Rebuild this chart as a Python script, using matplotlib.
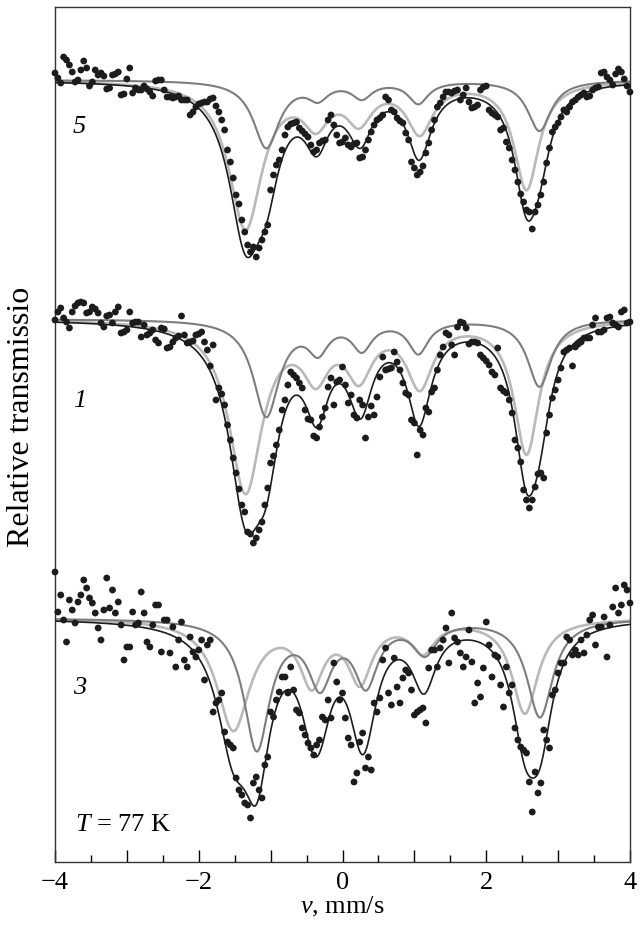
import numpy as np
import matplotlib
matplotlib.use("Agg")
import matplotlib.pyplot as plt
from matplotlib.ticker import MultipleLocator, FuncFormatter

plt.rcParams['font.family'] = ['Liberation Serif', 'DejaVu Serif']
plt.rcParams['mathtext.fontset'] = 'custom'
plt.rcParams['mathtext.rm'] = 'Liberation Serif'
plt.rcParams['mathtext.it'] = 'Liberation Serif:italic'

# velocity channels, mm/s
velocity = np.linspace(-4.0, 4.0, 201)

# measured transmission, % of off-resonance level
trans_5 = [100.7, 100.2, 99.7, 102.3, 102.0, 101.5, 100.8, 99.8, 100.0, 101.0,
           101.9, 101.2, 99.4, 99.8, 101.0, 100.5, 100.7, 100.4, 99.1, 99.2,
           100.5, 100.6, 100.8, 98.5, 98.6, 100.1, 101.2, 98.7, 99.2, 99.0,
           99.0, 99.4, 99.1, 98.8, 98.4, 99.9, 100.0, 100.0, 99.0, 98.3,
           98.3, 98.2, 98.3, 98.4, 98.0, 98.0, 98.0, 96.5, 96.8, 97.3,
           97.6, 97.7, 97.8, 97.8, 98.1, 98.2, 97.4, 96.8, 96.0, 95.0,
           93.0, 91.8, 90.2, 88.5, 87.6, 86.0, 84.8, 83.5, 82.8, 83.3,
           82.3, 83.2, 84.0, 84.8, 85.5, 89.0, 90.5, 91.5, 92.0, 93.0,
           94.5, 95.3, 95.6, 95.7, 95.8, 95.2, 94.9, 94.6, 94.3, 93.5,
           92.8, 93.0, 93.7, 93.9, 94.0, 96.0, 96.5, 95.5, 94.5, 93.7,
           93.8, 94.2, 93.5, 93.3, 93.6, 93.7, 92.2, 92.3, 93.0, 94.0,
           94.8, 95.5, 96.0, 96.2, 96.5, 98.3, 98.0, 97.0, 96.8, 96.2,
           95.9, 95.7, 94.7, 94.0, 91.8, 91.2, 90.5, 90.8, 91.4, 92.7,
           93.7, 95.0, 96.0, 97.3, 97.7, 98.3, 98.8, 98.8, 98.7, 98.9,
           99.0, 98.0, 98.5, 99.2, 97.8, 97.2, 97.3, 97.5, 99.0, 99.3,
           99.4, 97.0, 96.7, 96.5, 96.3, 95.0, 95.2, 93.8, 93.2, 92.0,
           91.0, 89.8, 88.6, 87.8, 87.0, 86.8, 85.1, 86.8, 87.5, 88.5,
           89.8, 91.7, 93.2, 94.8, 95.3, 95.7, 96.3, 97.0, 96.8, 97.3,
           97.8, 98.0, 98.3, 98.5, 98.7, 98.3, 98.4, 99.0, 99.2, 99.3,
           100.7, 100.8, 100.3, 100.0, 99.5, 100.6, 101.1, 100.8, 100.1, 99.4,
           98.8]
trans_1 = [99.9, 100.7, 101.1, 100.1, 99.7, 99.1, 100.7, 101.3, 101.6, 101.7,
           101.6, 100.6, 100.7, 101.2, 101.0, 100.6, 99.6, 99.2, 100.3, 100.4,
           99.6, 100.7, 101.2, 98.6, 98.7, 98.9, 100.7, 99.6, 99.7, 99.7,
           98.2, 99.4, 98.4, 98.6, 98.9, 97.9, 97.6, 99.1, 99.0, 97.1,
           97.2, 97.7, 98.1, 98.3, 100.3, 98.4, 97.6, 97.7, 97.8, 98.4,
           98.5, 98.7, 97.7, 96.9, 95.3, 97.4, 91.9, 93.1, 92.5, 91.4,
           89.4, 87.9, 86.1, 84.6, 83.0, 81.4, 80.7, 78.7, 78.5, 77.6,
           78.1, 78.9, 79.7, 81.4, 83.1, 85.6, 86.3, 87.4, 88.9, 90.9,
           91.9, 93.4, 94.7, 94.4, 94.1, 93.6, 93.1, 90.9, 90.0, 89.9,
           88.3, 88.1, 89.2, 90.2, 91.1, 93.2, 94.1, 91.4, 93.7, 93.9,
           95.2, 93.4, 91.6, 92.4, 90.4, 90.1, 91.9, 91.4, 88.1, 90.2,
           91.3, 90.4, 92.2, 94.2, 96.2, 94.9, 95.0, 95.1, 96.7, 95.7,
           94.9, 93.6, 92.6, 92.4, 89.9, 89.6, 86.4, 88.9, 88.4, 91.1,
           90.7, 92.7, 93.1, 94.9, 96.4, 97.2, 98.6, 98.4, 97.4, 96.4,
           99.2, 99.7, 99.6, 99.1, 97.5, 97.7, 97.7, 97.6, 96.4, 96.1,
           95.8, 95.4, 94.7, 94.4, 97.1, 93.1, 92.8, 92.6, 91.9, 90.6,
           87.9, 87.1, 85.7, 82.9, 81.9, 81.1, 81.9, 83.2, 84.5, 84.6,
           84.1, 88.6, 90.4, 92.1, 92.9, 93.9, 95.1, 96.7, 96.9, 97.1,
           95.3, 97.2, 97.5, 97.7, 98.1, 98.1, 98.1, 99.4, 100.1, 98.7,
           98.7, 98.9, 100.1, 100.2, 99.6, 99.4, 99.2, 100.7, 100.9, 99.6,
           99.7]
trans_3 = [104.6, 100.6, 102.3, 99.8, 97.6, 101.8, 100.8, 99.5, 101.6, 102.3,
           103.8, 103.0, 102.0, 101.5, 100.5, 99.0, 97.8, 100.8, 104.0, 101.0,
           102.8, 100.5, 101.6, 99.3, 95.8, 97.1, 97.1, 100.6, 99.3, 99.5,
           102.6, 100.5, 97.6, 97.1, 99.3, 101.3, 101.3, 96.6, 99.8, 99.8,
           96.5, 99.1, 95.1, 97.8, 99.6, 95.8, 95.1, 98.1, 96.6, 96.1,
           96.8, 97.8, 93.8, 97.3, 97.8, 90.6, 91.5, 91.8, 92.5, 88.6,
           87.6, 87.3, 87.0, 84.0, 82.8, 82.3, 81.5, 81.3, 80.0, 83.5,
           84.1, 82.8, 82.0, 85.3, 86.1, 90.6, 90.1, 91.8, 92.6, 94.1,
           94.1, 92.5, 95.1, 92.8, 90.8, 90.5, 89.0, 88.3, 87.5, 87.0,
           86.3, 87.3, 87.8, 90.1, 89.8, 91.8, 90.0, 95.5, 93.6, 91.8,
           92.5, 90.0, 88.0, 87.3, 83.6, 84.5, 87.6, 88.5, 85.0, 86.1,
           84.8, 91.5, 90.6, 92.0, 95.8, 97.0, 92.5, 91.3, 96.0, 93.1,
           91.5, 94.0, 94.8, 94.5, 92.8, 90.3, 90.6, 90.8, 91.0, 89.5,
           95.0, 96.8, 96.8, 95.1, 97.0, 97.8, 99.0, 95.5, 100.5, 98.0,
           97.6, 96.5, 95.1, 96.1, 98.8, 95.6, 91.5, 93.5, 92.1, 95.0,
           99.6, 97.3, 94.1, 96.3, 96.1, 93.3, 91.1, 95.1, 92.5, 93.3,
           89.0, 87.8, 87.1, 86.8, 86.5, 83.6, 80.6, 84.6, 82.5, 83.5,
           88.8, 87.8, 87.0, 92.3, 92.8, 94.5, 95.5, 95.5, 98.1, 97.8,
           96.3, 96.8, 96.3, 97.8, 96.5, 98.3, 99.8, 100.3, 97.3, 99.1,
           99.1, 100.1, 96.1, 99.3, 101.1, 103.0, 100.5, 101.3, 103.3, 102.8,
           101.5]

# fitted subspectra: line positions (mm/s), half widths (mm/s), depths (%)
pos_a = [-1.06, -0.34, 0.27, 1.055, 2.74]
hw_a = [0.22, 0.17, 0.17, 0.17, 0.20]
pos_b = [-1.35, -0.37, 0.23, 1.075, 2.56]
hw_b = [0.28, 0.22, 0.22, 0.22, 0.21]
depth_a5 = [6.7, 1.55, 1.6, 2.2, 5.05]
depth_b5 = [14.7, 3.7, 3.6, 4.9, 10.8]
depth_a1 = [9.6, 2.8, 2.75, 3.2, 6.7]
depth_b1 = [17.1, 4.9, 5.1, 6.3, 13.3]

pos_a3 = [-1.193, -0.313, 0.327, 1.147, 2.747]
hw_a3 = [0.22, 0.20, 0.20, 0.20, 0.22]
depth_a3 = [12.9, 6.1, 6.2, 3.15, 9.8]
pos_b3 = [-1.519, -0.428, 0.243, 1.12, 2.538]
hw_b3 = [0.28, 0.20, 0.20, 0.20, 0.22]
depth_b3 = [11.0, 6.0, 5.9, 3.0, 9.4]

# vertical placement of each spectrum (level of 100 %)
base_5 = 78.2
base_1 = 54.3
base_3 = 24.4

DARK = '#7d7d7d'
LIGHT = '#b9b9b9'
INK = '#1c1c1c'


def absorption(v, pos, hw, depth):
    out = np.zeros_like(v)
    for p, w, d in zip(pos, hw, depth):
        out += d / (1.0 + ((v - p) / w) ** 2)
    return out


fig = plt.figure(figsize=(6.41, 9.31), dpi=100)
ax = fig.add_axes([55 / 641, 69 / 931, 575 / 641, 855 / 931])

vfine = np.linspace(-4, 4, 1601)

spectra = [
    (trans_5, base_5, (pos_a, hw_a, depth_a5), (pos_b, hw_b, depth_b5)),
    (trans_1, base_1, (pos_a, hw_a, depth_a1), (pos_b, hw_b, depth_b1)),
    (trans_3, base_3, (pos_a3, hw_a3, depth_a3), (pos_b3, hw_b3, depth_b3)),
]

for trans, base, comp_a, comp_b in spectra:
    ya = absorption(vfine, *comp_a)
    yb = absorption(vfine, *comp_b)
    ax.plot(vfine, base - yb, color=LIGHT, lw=1.9, zorder=2)
    ax.plot(vfine, base - ya, color=DARK, lw=1.5, zorder=2)
    ax.plot(vfine, base - ya - yb, color=INK, lw=1.2, zorder=3)
    ax.scatter(velocity, np.array(trans) - 100 + base, s=24, color=INK,
               edgecolors='none', zorder=4, clip_on=False)

ax.text(-3.66, 73.5, '5', fontsize=19, style='italic', ha='center', va='center')
ax.text(-3.65, 46.1, '1', fontsize=19, style='italic', ha='center', va='center')
ax.text(-3.66, 17.4, '3', fontsize=19, style='italic', ha='center', va='center')
ax.text(-3.72, 3.7, '$T$ = 77 K', fontsize=19, ha='left', va='center')

ax.set_xlim(-4, 4)
ax.set_ylim(0, 85.5)
ax.set_yticks([])
ax.xaxis.set_major_locator(MultipleLocator(1))
ax.xaxis.set_minor_locator(MultipleLocator(0.5))
ax.xaxis.set_major_formatter(FuncFormatter(
    lambda v, p: str(int(round(v))).replace('-', '\u2212') if int(round(v)) % 2 == 0 else ''))
ax.tick_params(axis='x', which='major', direction='in', length=9, width=1,
               labelsize=19, pad=7, top=False)
ax.tick_params(axis='x', which='minor', direction='in', length=5, width=1, top=False)
for s in ax.spines.values():
    s.set_linewidth(1.0)
    s.set_color('#333333')

ax.set_xlabel('$v$, mm/s', fontsize=19, labelpad=1)
fig.text(22 / 641, 1 - 417 / 931, 'Relative transmissio', rotation=90,
         fontsize=23, ha='center', va='center')

fig.savefig('out.png', dpi=100)
